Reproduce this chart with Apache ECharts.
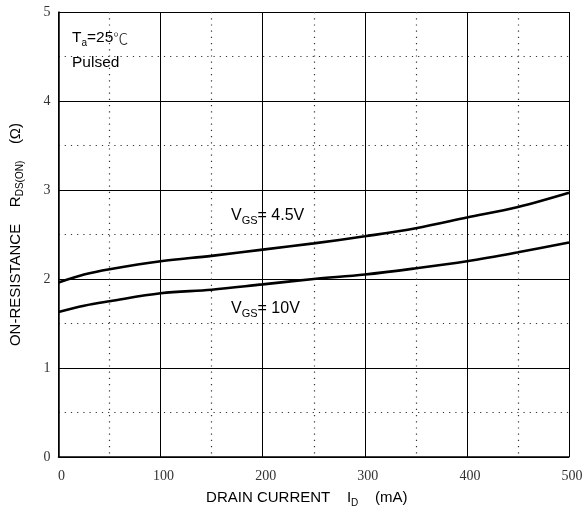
<!DOCTYPE html>
<html><head><meta charset="utf-8">
<script src="https://cdn.jsdelivr.net/npm/echarts@6/dist/echarts.min.js"></script>
<style>html,body{margin:0;padding:0;background:#fff}#c{width:586px;height:513px}</style>
</head><body><div id="c"></div>
<script>
const drainCurrent = [0, 25, 50, 100, 150, 200, 250, 300, 350, 400, 450, 500];
const rdsVgs45 = [1.96, 2.05, 2.11, 2.20, 2.26, 2.33, 2.40, 2.48, 2.57, 2.69, 2.81, 2.97];
const rdsVgs10 = [1.63, 1.70, 1.75, 1.84, 1.88, 1.94, 2.00, 2.05, 2.12, 2.20, 2.30, 2.41];
const xTicks = [0, 100, 200, 300, 400, 500];
const yTicks = [0, 1, 2, 3, 4, 5];

const sans = 'Liberation Sans, Arial, sans-serif';
const serif = 'Liberation Serif, Times New Roman, serif';
const chart = echarts.init(document.getElementById('c'));
const pair = ys => drainCurrent.map((x, i) => [x, ys[i]]);
const gridSolid = {show: true, lineStyle: {color: '#000', width: 1, type: 'solid'}};
const gridDot = {show: true, lineStyle: {color: '#333', width: 1.2, type: [1.2, 5]}};
chart.setOption({
  animation: false,
  grid: {left: 54, right: 17, top: 12, bottom: 52, containLabel: false},
  xAxis: {
    type: 'value', min: xTicks[0], max: xTicks[xTicks.length - 1], interval: 100,
    axisLine: {show: true, lineStyle: {color: '#000', width: 1.5}},
    axisTick: {show: false},
    axisLabel: {fontFamily: serif, fontSize: 14, color: '#333', margin: 12, padding: [0, 0, 0, 6]},
    splitLine: gridSolid,
    minorTick: {show: false, splitNumber: 2},
    minorSplitLine: gridDot,
    name: 'DRAIN CURRENT    I{sub|D}    (mA)',
    nameLocation: 'middle', nameGap: 31,
    nameTextStyle: {fontFamily: sans, fontSize: 15, color: '#000', padding: [0, 14, 0, 0],
      rich: {sub: {fontFamily: sans, fontSize: 10, color: '#000', padding: [10, 0, 0, 0]}}}
  },
  yAxis: {
    type: 'value', min: yTicks[0], max: yTicks[yTicks.length - 1], interval: 1,
    axisLine: {show: true, lineStyle: {color: '#000', width: 1.5}},
    axisTick: {show: false},
    axisLabel: {fontFamily: serif, fontSize: 14, color: '#333', margin: 8},
    splitLine: gridSolid,
    minorTick: {show: false, splitNumber: 2},
    minorSplitLine: gridDot,
    name: 'ON-RESISTANCE    R{sub|DS(ON)}    (Ω)',
    nameLocation: 'middle', nameGap: 33,
    nameTextStyle: {fontFamily: sans, fontSize: 15, color: '#000', padding: [0, 0, 0, 0],
      rich: {sub: {fontFamily: sans, fontSize: 10, color: '#000', padding: [10, 0, 0, 0]}}}
  },
  series: [
    {type: 'line', data: pair(rdsVgs45), smooth: 0.35, showSymbol: false,
     lineStyle: {color: '#000', width: 2.6}},
    {type: 'line', data: pair(rdsVgs10), smooth: 0.35, showSymbol: false,
     lineStyle: {color: '#000', width: 2.6}}
  ],
  graphic: [
    {type: 'text', left: 72, top: 30, style: {
      text: 'T{sub|a}=25{deg|℃}', fontFamily: sans, fontSize: 15.5, fill: '#000',
      rich: {sub: {fontFamily: sans, fontSize: 10, fill: '#000', padding: [10, 0, 0, 0]},
             deg: {fontFamily: 'Noto Sans CJK SC', fontSize: 15, fontWeight: 300, fill: '#222'}}}},
    {type: 'text', left: 72, top: 55, style: {text: 'Pulsed', fontFamily: sans, fontSize: 15.5, fill: '#000'}},
    {type: 'text', left: 231, top: 208, style: {
      text: 'V{sub|GS}= 4.5V', fontFamily: sans, fontSize: 16, fill: '#000',
      rich: {sub: {fontFamily: sans, fontSize: 11, fill: '#000', padding: [10, 0, 0, 0]}}}},
    {type: 'text', left: 231, top: 301, style: {
      text: 'V{sub|GS}= 10V', fontFamily: sans, fontSize: 16, fill: '#000',
      rich: {sub: {fontFamily: sans, fontSize: 11, fill: '#000', padding: [10, 0, 0, 0]}}}}
  ]
});
</script></body></html>
